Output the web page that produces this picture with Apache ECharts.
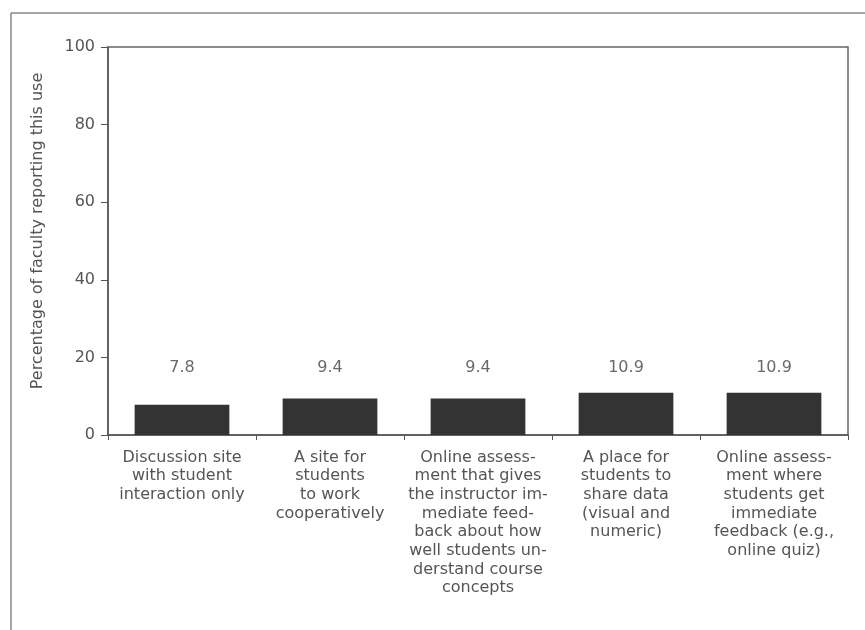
<!DOCTYPE html>
<html><head><meta charset="utf-8">
<script src="https://cdn.jsdelivr.net/npm/echarts@6/dist/echarts.min.js"></script>
<style>html,body{margin:0;padding:0;background:#fff}#c{width:865px;height:630px}</style>
</head><body><div id="c"></div>
<script>
var categories = [
  "Discussion site\nwith student\ninteraction only",
  "A site for\nstudents\nto work\ncooperatively",
  "Online assess-\nment that gives\nthe instructor im-\nmediate feed-\nback about how\nwell students un-\nderstand course\nconcepts",
  "A place for\nstudents to\nshare data\n(visual and\nnumeric)",
  "Online assess-\nment where\nstudents get\nimmediate\nfeedback (e.g.,\nonline quiz)"
];
var values = [7.8, 9.4, 9.4, 10.9, 10.9];
var labelLevel = [17.4, 17.4, 17.4, 17.4, 17.4];
var yTicks = [0, 20, 40, 60, 80, 100];

var chart = echarts.init(document.getElementById('c'), null, {renderer:'canvas'});
var txt = '#555';
var font = 'DejaVu Sans';
chart.setOption({
  animation:false,
  backgroundColor:'#fff',
  grid:{left:108, right:17, top:47, bottom:195, show:true, borderColor:'#666', borderWidth:1.5},
  graphic:[
    {type:'line', shape:{x1:11,y1:13,x2:865,y2:13}, style:{stroke:'#888', lineWidth:1.5}},
    {type:'line', shape:{x1:11,y1:13,x2:11,y2:630}, style:{stroke:'#888', lineWidth:1.5}}
  ],
  xAxis:{
    type:'category', data:categories,
    axisLine:{lineStyle:{color:'#555', width:1.5}},
    axisTick:{show:true, length:5, lineStyle:{color:'#555'}},
    axisLabel:{color:txt, fontSize:16, fontFamily:font, lineHeight:18.7, margin:13, interval:0, verticalAlign:'top'}
  },
  yAxis:{
    type:'value', min:0, max:100, interval:20,
    name:'Percentage of faculty reporting this use', nameLocation:'middle', nameGap:62,
    nameTextStyle:{color:txt, fontSize:16, fontFamily:font, padding:[0,0,0,20]},
    axisLine:{show:true, lineStyle:{color:'#555', width:1.5}},
    axisTick:{show:true, length:7, lineStyle:{color:'#555'}},
    splitLine:{show:false},
    axisLabel:{color:txt, fontSize:16, fontFamily:font, margin:13,
      formatter:function(v){return yTicks.indexOf(v)>=0?String(v):'';}}
  },
  series:[
    {type:'bar', data:values, barCategoryGap:'36%', itemStyle:{color:'#333'}},
    {type:'scatter', data:labelLevel, symbolSize:0, silent:true,
     label:{show:true, position:'inside', color:'#444', fontSize:16, fontFamily:font,
       formatter:function(p){return values[p.dataIndex].toFixed(1);}}}
  ]
});
</script></body></html>
